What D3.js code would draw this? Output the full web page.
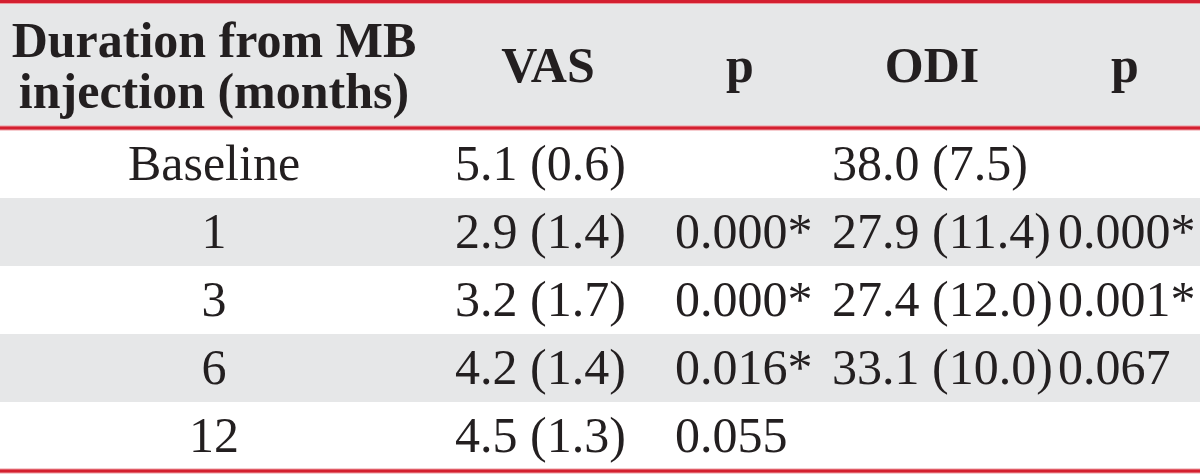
<!DOCTYPE html>
<html>
<head>
<meta charset="utf-8">
<script src="https://cdn.jsdelivr.net/npm/d3@7"></script>
<style>
  body { margin: 0; background: #fff; }
  svg text { font-family: "Liberation Serif", "Times New Roman", serif; fill: #231f20; }
</style>
</head>
<body>
<svg id="chart" width="1200" height="474"></svg>
<script>
// table values
const periods = ["Baseline", "1", "3", "6", "12"];
const vasMean = [5.1, 2.9, 3.2, 4.2, 4.5];
const vasSd = [0.6, 1.4, 1.7, 1.4, 1.3];
const vasP = [null, 0.000, 0.000, 0.016, 0.055];
const vasSig = [false, true, true, true, false];
const odiMean = [38.0, 27.9, 27.4, 33.1, null];
const odiSd = [7.5, 11.4, 12.0, 10.0, null];
const odiP = [null, 0.000, 0.001, 0.067, null];
const odiSig = [false, true, true, false, false];
const headers = [["Duration from MB", "injection (months)"], ["VAS"], ["p"], ["ODI"], ["p"]];

const W = 1200, H = 474;
const svg = d3.select("#chart");

const fmtMean = (m, s) => m == null ? "" : `${m.toFixed(1)} (${s.toFixed(1)})`;
const fmtP = (p, sig) => p == null ? "" : p.toFixed(3) + (sig ? "*" : "");

const rows = periods.map((d, i) => ({
    period: d,
    vas: fmtMean(vasMean[i], vasSd[i]),
    vasp: fmtP(vasP[i], vasSig[i]),
    odi: fmtMean(odiMean[i], odiSd[i]),
    odip: fmtP(odiP[i], odiSig[i])
}));

// columns: header center x, cell x + anchor
const cols = [
    { key: "period", hx: 214, x: 214, anchor: "middle" },
    { key: "vas", hx: 548, x: 455, anchor: "start" },
    { key: "vasp", hx: 740, x: 675, anchor: "start" },
    { key: "odi", hx: 932, x: 832, anchor: "start" },
    { key: "odip", hx: 1125, x: 1058, anchor: "start" }
];

const y = d3.scaleBand().domain(periods).range([130, 470]);

// header background
svg.append("rect").attr("x", 0).attr("y", 2).attr("width", W).attr("height", 126).attr("fill", "#e6e7e8");

// zebra rows
svg.selectAll("rect.row")
    .data(rows.filter((d, i) => i % 2 === 1))
    .join("rect")
    .attr("class", "row")
    .attr("x", 0)
    .attr("y", d => y(d.period))
    .attr("width", W)
    .attr("height", y.bandwidth())
    .attr("fill", "#e6e7e8");

// header text
cols.forEach((c, ci) => {
    const lines = headers[ci];
    const t = svg.append("text")
        .attr("text-anchor", "middle")
        .attr("font-weight", "bold")
        .attr("font-size", 50);
    if (lines.length === 2) {
        t.append("tspan").attr("x", c.hx).attr("y", 57).text(lines[0]);
        t.append("tspan").attr("x", c.hx).attr("y", 108).text(lines[1]);
    } else {
        t.attr("x", c.hx).attr("y", 82).text(lines[0]);
    }
});

// body cells
cols.forEach(c => {
    svg.selectAll(null)
        .data(rows)
        .join("text")
        .attr("x", c.x)
        .attr("y", d => y(d.period) + 50)
        .attr("text-anchor", c.anchor)
        .attr("font-size", 50)
        .text(d => d[c.key]);
});

// red rules
const rule = (yy) => {
    svg.append("line").attr("x1", 0).attr("x2", W).attr("y1", yy).attr("y2", yy)
        .attr("stroke", "#ee9aa0").attr("stroke-width", 5);
    svg.append("line").attr("x1", 0).attr("x2", W).attr("y1", yy).attr("y2", yy)
        .attr("stroke", "#d42030").attr("stroke-width", 3);
};
rule(1.5);
rule(128);
rule(471);
</script>
</body>
</html>
